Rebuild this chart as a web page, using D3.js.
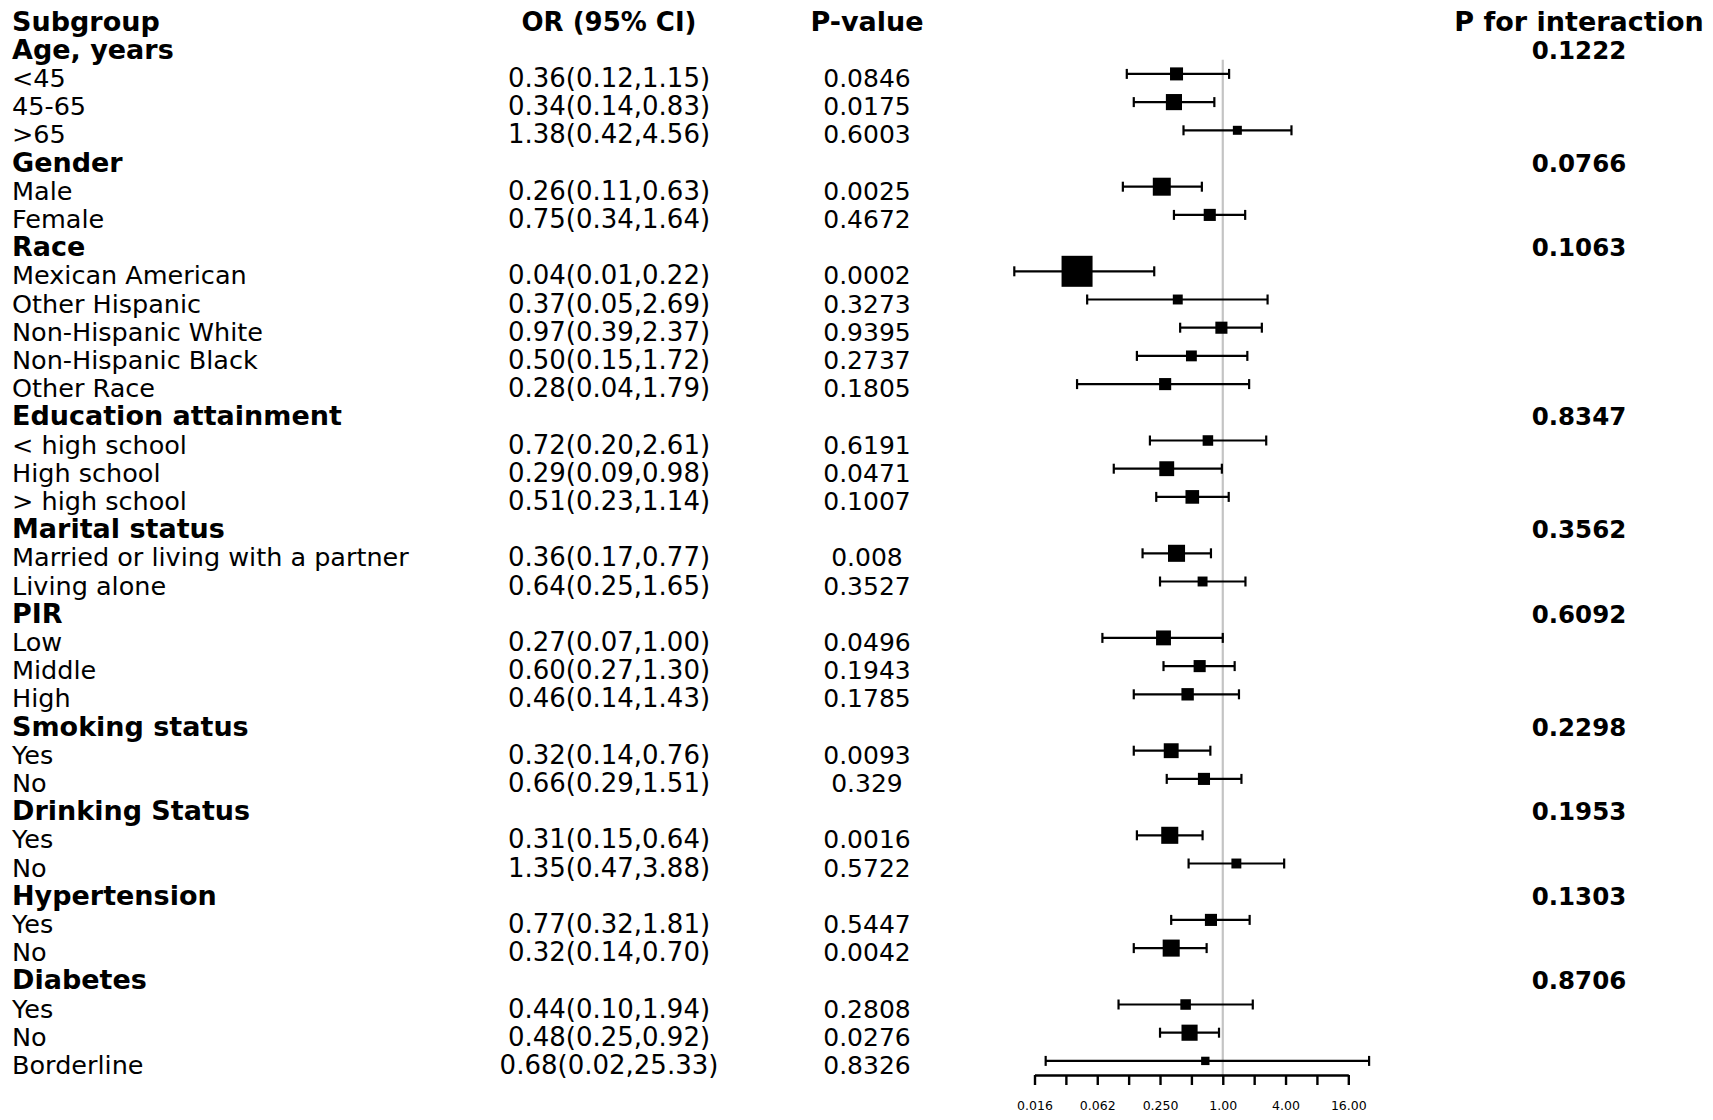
<!DOCTYPE html>
<html>
<head>
<meta charset="utf-8">
<script src="https://cdn.jsdelivr.net/npm/d3@7"></script>
<style>
  body { margin: 0; background: #fff; }
  text { font-family: "DejaVu Sans", Verdana, sans-serif; fill: #000; }
</style>
</head>
<body>
<div id="chart"></div>
<script>
// rows under the header line; null = group heading
const labels = ["Age, years", "<45", "45-65", ">65",
  "Gender", "Male", "Female",
  "Race", "Mexican American", "Other Hispanic", "Non-Hispanic White", "Non-Hispanic Black", "Other Race",
  "Education attainment", "< high school", "High school", "> high school",
  "Marital status", "Married or living with a partner", "Living alone",
  "PIR", "Low", "Middle", "High",
  "Smoking status", "Yes", "No",
  "Drinking Status", "Yes", "No",
  "Hypertension", "Yes", "No",
  "Diabetes", "Yes", "No", "Borderline"];

const orValues = [null, 0.36, 0.34, 1.38,
  null, 0.26, 0.75,
  null, 0.04, 0.37, 0.97, 0.50, 0.28,
  null, 0.72, 0.29, 0.51,
  null, 0.36, 0.64,
  null, 0.27, 0.60, 0.46,
  null, 0.32, 0.66,
  null, 0.31, 1.35,
  null, 0.77, 0.32,
  null, 0.44, 0.48, 0.68];

const ciLower = [null, 0.12, 0.14, 0.42,
  null, 0.11, 0.34,
  null, 0.01, 0.05, 0.39, 0.15, 0.04,
  null, 0.20, 0.09, 0.23,
  null, 0.17, 0.25,
  null, 0.07, 0.27, 0.14,
  null, 0.14, 0.29,
  null, 0.15, 0.47,
  null, 0.32, 0.14,
  null, 0.10, 0.25, 0.02];

const ciUpper = [null, 1.15, 0.83, 4.56,
  null, 0.63, 1.64,
  null, 0.22, 2.69, 2.37, 1.72, 1.79,
  null, 2.61, 0.98, 1.14,
  null, 0.77, 1.65,
  null, 1.00, 1.30, 1.43,
  null, 0.76, 1.51,
  null, 0.64, 3.88,
  null, 1.81, 0.70,
  null, 1.94, 0.92, 25.33];

const pValues = ["", "0.0846", "0.0175", "0.6003",
  "", "0.0025", "0.4672",
  "", "0.0002", "0.3273", "0.9395", "0.2737", "0.1805",
  "", "0.6191", "0.0471", "0.1007",
  "", "0.008", "0.3527",
  "", "0.0496", "0.1943", "0.1785",
  "", "0.0093", "0.329",
  "", "0.0016", "0.5722",
  "", "0.5447", "0.0042",
  "", "0.2808", "0.0276", "0.8326"];

const pInteraction = ["0.1222", "", "", "",
  "0.0766", "", "",
  "0.1063", "", "", "", "", "",
  "0.8347", "", "", "",
  "0.3562", "", "",
  "0.6092", "", "", "",
  "0.2298", "", "",
  "0.1953", "", "",
  "0.1303", "", "",
  "0.8706", "", "", ""];

// relative box weights
const weights = [null, 0.42, 0.52, 0.29,
  null, 0.58, 0.39,
  null, 1.00, 0.32, 0.39, 0.35, 0.39,
  null, 0.34, 0.48, 0.44,
  null, 0.55, 0.32,
  null, 0.48, 0.39, 0.40,
  null, 0.48, 0.39,
  null, 0.55, 0.32,
  null, 0.39, 0.55,
  null, 0.34, 0.52, 0.27];

const columnHeads = ["Subgroup", "OR (95% CI)", "P-value", "P for interaction"];
const tickValues = [0.015625, 0.03125, 0.0625, 0.125, 0.25, 0.5, 1, 2, 4, 8, 16];
const tickLabels = ["0.016", "", "0.062", "", "0.250", "", "1.00", "", "4.00", "", "16.00"];

const width = 1713, height = 1120;
const colX = { label: 12, or: 609, p: 867, pint: 1579 };
const baseShift = 13;

const svg = d3.select("#chart").append("svg")
  .attr("width", width)
  .attr("height", height);

// row 0 is the column header line
const y = d3.scaleLinear().domain([0, labels.length]).range([17.5, 17.5 + labels.length * 28.2]);
const x = d3.scaleLog().base(2).domain([tickValues[0], tickValues[tickValues.length - 1]]).range([1034.5, 1348.3]);
const box = d3.scaleLinear().domain([0, 1]).range([0, 31]);
const fmt = d3.format(".2f");

const rows = labels.map((d, i) => ({
  label: d, or: orValues[i], lo: ciLower[i], hi: ciUpper[i],
  p: pValues[i], pint: pInteraction[i], w: weights[i], row: i + 1
}));

// column headers
svg.selectAll(".head")
  .data(columnHeads)
  .enter()
  .append("text")
  .attr("class", "head")
  .attr("x", (d, i) => [colX.label, colX.or, colX.p, colX.pint][i])
  .attr("y", y(0) + baseShift)
  .attr("text-anchor", (d, i) => i === 0 ? "start" : "middle")
  .style("font-weight", "bold")
  .style("font-size", (d, i) => i === 1 ? "26px" : "27px")
  .text(d => d);

// subgroup labels
svg.selectAll(".lab")
  .data(rows)
  .enter()
  .append("text")
  .attr("class", "lab")
  .attr("x", colX.label)
  .attr("y", d => y(d.row) + baseShift)
  .style("font-weight", d => d.or === null ? "bold" : "normal")
  .style("font-size", d => d.or === null ? "27px" : "25.5px")
  .text(d => d.label);

const est = rows.filter(d => d.or !== null);

// OR (95% CI) column
svg.selectAll(".ortxt")
  .data(est)
  .enter()
  .append("text")
  .attr("x", colX.or)
  .attr("y", d => y(d.row) + baseShift)
  .attr("text-anchor", "middle")
  .style("font-size", "26px")
  .text(d => `${fmt(d.or)}(${fmt(d.lo)},${fmt(d.hi)})`);

// P-value column
svg.selectAll(".ptxt")
  .data(est)
  .enter()
  .append("text")
  .attr("x", colX.p)
  .attr("y", d => y(d.row) + baseShift)
  .attr("text-anchor", "middle")
  .style("font-size", "25px")
  .text(d => d.p);

// P for interaction
svg.selectAll(".pint")
  .data(rows.filter(d => d.pint !== ""))
  .enter()
  .append("text")
  .attr("x", colX.pint)
  .attr("y", d => y(d.row) + baseShift)
  .attr("text-anchor", "middle")
  .style("font-weight", "bold")
  .style("font-size", "24.5px")
  .text(d => d.pint);

// reference line at OR = 1
svg.append("line")
  .attr("x1", x(1)).attr("x2", x(1))
  .attr("y1", y(1.5)).attr("y2", y(labels.length + 0.5))
  .attr("stroke", "#c4c4c4")
  .attr("stroke-width", 2.2);

// confidence intervals
const ci = svg.append("g").attr("stroke", "#000").attr("stroke-width", 2.2);
ci.selectAll(".ci")
  .data(est)
  .enter()
  .append("line")
  .attr("x1", d => x(d.lo)).attr("x2", d => x(d.hi))
  .attr("y1", d => y(d.row)).attr("y2", d => y(d.row));

["lo", "hi"].forEach(k => {
  ci.selectAll(".cap-" + k)
    .data(est)
    .enter()
    .append("line")
    .attr("x1", d => x(d[k])).attr("x2", d => x(d[k]))
    .attr("y1", d => y(d.row) - 5).attr("y2", d => y(d.row) + 5);
});

// boxes
svg.selectAll(".box")
  .data(est)
  .enter()
  .append("rect")
  .attr("x", d => x(d.or) - box(d.w) / 2)
  .attr("y", d => y(d.row) - box(d.w) / 2)
  .attr("width", d => box(d.w))
  .attr("height", d => box(d.w))
  .attr("fill", "#000");

// x axis
const axis = svg.append("g")
  .attr("transform", `translate(0,${y(labels.length + 0.5)})`)
  .call(d3.axisBottom(x)
    .tickValues(tickValues)
    .tickFormat((d, i) => tickLabels[i])
    .tickSize(10)
    .tickSizeOuter(0)
    .tickPadding(16));

axis.select(".domain").attr("stroke", "#000").attr("stroke-width", 2.4);
axis.selectAll(".tick line").attr("stroke", "#000").attr("stroke-width", 2.4);
axis.selectAll(".tick text")
  .style("font-family", "'DejaVu Sans', sans-serif")
  .style("font-size", "12.5px")
  .attr("fill", "#333");
</script>
</body>
</html>
